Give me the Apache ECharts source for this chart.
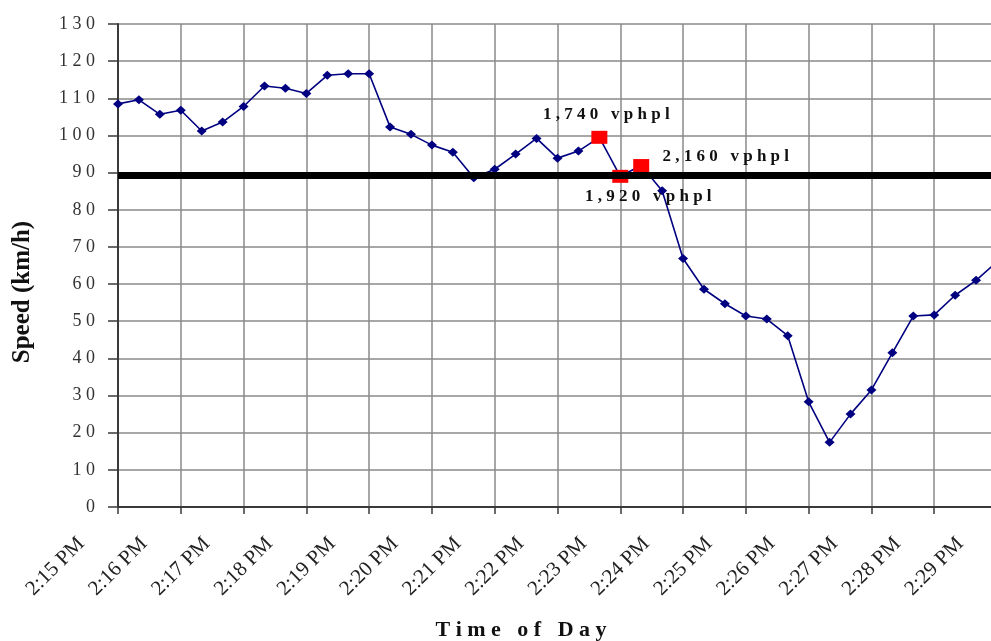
<!DOCTYPE html>
<html>
<head>
<meta charset="utf-8">
<script src="https://cdn.jsdelivr.net/npm/echarts@6/dist/echarts.min.js"></script>
<style>
  html, body { margin: 0; padding: 0; background: #fff; overflow: hidden; }
  #chart { width: 997px; height: 641px; }
</style>
</head>
<body>
<div id="chart"></div>
<script>
// Minute marks along the time axis; readings are taken every 20 seconds.
const minuteLabels = ['2:15 PM', '2:16 PM', '2:17 PM', '2:18 PM', '2:19 PM', '2:20 PM', '2:21 PM',
  '2:22 PM', '2:23 PM', '2:24 PM', '2:25 PM', '2:26 PM', '2:27 PM', '2:28 PM', '2:29 PM'];
const secondSteps = ['00', '20', '40'];

// Average speed (km/h) per 20-second interval.
const speedKmh = [
  108.5, 109.6, 105.7, 106.8, 101.2, 103.6, 107.8, 113.3, 112.7, 111.3,
  116.2, 116.6, 116.6, 102.3, 100.3, 97.4, 95.5, 88.6, 90.9, 95.0,
  99.2, 93.9, 95.8, 99.5, 89.0, 91.9, 85.1, 66.9, 58.6, 54.7,
  51.4, 50.6, 46.1, 28.3, 17.4, 25.0, 31.5, 41.5, 51.4, 51.7,
  57.0, 61.0, 66.0
];

// Intervals with measured flow rates and their annotations.
const flowIndex = [23, 24, 25];
const flowLabels = ['1,740 vphpl', '1,920 vphpl', '2,160 vphpl'];

// Speed threshold drawn as a heavy horizontal rule.
const speedThreshold = 89.3;

// Build the 20-second category list from the minute marks.
const categories = [];
minuteLabels.forEach(function (lbl) {
  const parts = lbl.split(' ');
  secondSteps.forEach(function (s) {
    categories.push(parts[0] + ':' + s + ' ' + parts[1]);
  });
});
const timeCategories = categories.slice(0, speedKmh.length);

const SERIF = '"Liberation Serif", "Times New Roman", serif';
const spaced = function (s, gap) { return s.split('').join(gap || ' '); };

const flowLabelOffsets = [[7, -22.5], [28, 20], [84.5, -9.3]];

const seriesData = speedKmh.map(function (v, i) {
  const k = flowIndex.indexOf(i);
  if (k < 0) return v;
  return {
    value: v,
    symbol: 'rect',
    symbolSize: [16, 13],
    itemStyle: { color: '#ff0000' },
    label: {
      show: true,
      position: 'inside',
      offset: flowLabelOffsets[k],
      formatter: spaced(flowLabels[k]),
      fontFamily: SERIF,
      fontWeight: 'bold',
      fontSize: 17,
      color: '#111'
    }
  };
});

const chart = echarts.init(document.getElementById('chart'), null, { renderer: 'canvas' });

chart.setOption({
  animation: false,
  backgroundColor: '#ffffff',
  grid: { left: 118, top: 24, right: 0, bottom: 134, containLabel: false },
  xAxis: {
    type: 'category',
    data: timeCategories,
    boundaryGap: false,
    axisLine: { show: true, lineStyle: { color: '#3a3a3a', width: 2 } },
    axisTick: { show: true, interval: 2, length: 7, lineStyle: { color: '#3a3a3a', width: 1.5 } },
    axisLabel: {
      interval: 2,
      rotate: 45,
      margin: -3,
      padding: [0, 52, 0, 0],
      fontFamily: SERIF,
      fontSize: 21,
      color: '#222',
      formatter: function (v) { return v.replace(/:\d\d /, ' '); }
    },
    splitLine: { show: true, interval: 2, lineStyle: { color: '#8a8a8a', width: 1.5 } }
  },
  yAxis: {
    type: 'value',
    min: 0,
    max: 130,
    interval: 10,
    name: 'Speed (km/h)',
    nameLocation: 'middle',
    nameGap: 83,
    nameTextStyle: {
      fontFamily: SERIF,
      fontWeight: 'bold',
      fontSize: 25,
      color: '#111',
      padding: [0, 53, 0, 0]
    },
    axisLine: { show: true, lineStyle: { color: '#3a3a3a', width: 2 } },
    axisTick: { show: true, length: 10, lineStyle: { color: '#3a3a3a', width: 1.5 } },
    axisLabel: {
      margin: 23,
      fontFamily: SERIF,
      fontSize: 18,
      color: '#333',
      formatter: function (v) { return spaced(String(v)); }
    },
    splitLine: { show: true, lineStyle: { color: '#8a8a8a', width: 1.5 } }
  },
  series: [
    {
      name: 'Speed',
      type: 'line',
      data: seriesData,
      z: 3,
      symbol: 'diamond',
      symbolSize: [10, 9],
      showAllSymbol: true,
      lineStyle: { color: '#000080', width: 1.6 },
      itemStyle: { color: '#000080' },
      label: { show: false }
    },
    {
      name: 'Threshold',
      type: 'line',
      data: [],
      z: 6,
      markLine: {
        silent: true,
        symbol: ['none', 'none'],
        label: { show: false },
        lineStyle: { color: '#000000', width: 7, type: 'solid' },
        data: [{ yAxis: speedThreshold }]
      }
    }
  ],
  graphic: [
    {
      type: 'text',
      x: 521,
      y: 630,
      style: {
        text: 'T i m e   o f   D a y',
        font: 'bold 22px ' + SERIF,
        fill: '#111',
        align: 'center',
        verticalAlign: 'middle'
      }
    }
  ]
});
</script>
</body>
</html>
